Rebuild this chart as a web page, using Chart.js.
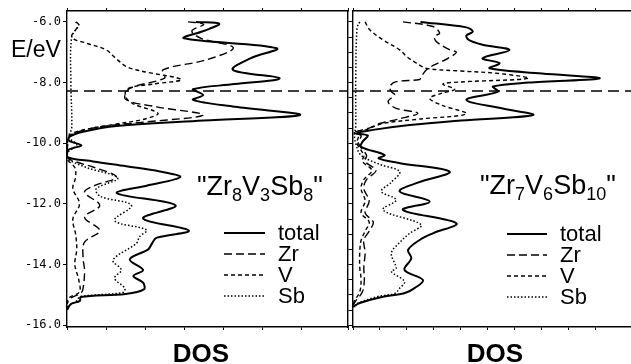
<!DOCTYPE html>
<html>
<head>
    <title>DOS Zr8V3Sb8 / Zr7V6Sb10</title>
    <script src="https://cdn.jsdelivr.net/npm/chart.js"></script>
    <style>
        body { margin: 0; background: #fff; }
        #wrap { position: relative; width: 631px; height: 364px; overflow: hidden;
                font-family: "Liberation Sans", Arial, sans-serif; color: #000; }
        canvas { position: absolute; top: 0; }
        .lbl { position: absolute; white-space: nowrap; line-height: 1; }
        .lbl sub { font-size: 18px; vertical-align: -6px; line-height: 0; }
    </style>
</head>
<body>
<div id="wrap">
    <canvas id="leftChart" width="352" height="364" style="left:0"></canvas>
    <canvas id="rightChart" width="282" height="364" style="left:349px"></canvas>
    <div class="lbl" style="left:11px; top:38px; font-size:23px;">E/eV</div>
    <div class="lbl" style="left:197px; top:173px; font-size:27px;">"Zr<sub>8</sub>V<sub>3</sub>Sb<sub>8</sub>"</div>
    <div class="lbl" style="left:480px; top:172px; font-size:27px;">"Zr<sub>7</sub>V<sub>6</sub>Sb<sub>10</sub>"</div>
    <div class="lbl" style="left:201px; top:340px; font-size:26px; font-weight:bold; transform:translateX(-50%);">DOS</div>
    <div class="lbl" style="left:495px; top:340px; font-size:26px; font-weight:bold; transform:translateX(-50%);">DOS</div>
</div>
<script>
    // axis values
    const yLabelTicks = [-16, -14, -12, -10, -8, -6];
    const yMinorTicks = [-16, -15.5, -15, -14.5, -14, -13.5, -13, -12.5, -12, -11.5, -11,
                         -10.5, -10, -9.5, -9, -8.5, -8, -7.5, -7, -6.5, -6];
    const fermiE = -8.28;
    const seriesNames = ['total', 'Zr', 'V', 'Sb'];

    // "Zr8V3Sb8" (left panel), energy in eV, DOS in arbitrary units
    const lTotalE = [-6.00, -6.06, -6.30, -6.54, -6.87, -7.20, -7.58, -7.86, -8.05, -8.22, -8.41, -8.57, -8.80, -9.07,
                     -9.25, -9.43, -9.62, -9.78, -9.92, -10.07, -10.22, -10.45, -10.60, -10.76, -10.93, -11.12, -11.40,
                     -11.65, -12.05, -12.48, -12.88, -13.12, -13.30, -13.50, -13.83, -14.18, -14.38, -14.60, -14.82,
                     -14.97, -15.07, -15.20, -15.30, -15.50];
    const lTotalD = [3.3, 3.9, 3.5, 3.0, 5.37, 4.7, 4.25, 5.45, 4.3, 3.23, 3.49, 3.23, 4.3, 5.97,
                     3.5, 1.27, 0.41, 0.07, 0.05, 0.37, 0.03, 0.0, 0.67, 1.52, 2.38, 2.9, 2.04,
                     1.28, 2.78, 1.95, 3.12, 2.29, 2.18, 2.08, 1.61, 1.95, 1.7, 1.95, 1.97,
                     1.5, 0.35, 0.33, 0.1, 0.0];
    const lZrE = [-6.00, -6.08, -6.30, -6.55, -6.85, -7.25, -7.58, -7.85, -8.20, -8.55, -8.80, -9.07, -9.30, -9.45,
                  -9.62, -9.80, -10.00, -10.45, -10.60, -10.80, -11.12, -11.40, -11.62, -12.05, -12.44, -12.88,
                  -13.26, -13.76, -14.20, -14.80, -14.95, -15.10, -15.30];
    const lZrD = [3.1, 3.5, 3.2, 3.45, 4.26, 3.57, 2.46, 2.5, 1.6, 1.5, 2.3, 3.49, 2.0, 0.9,
                  0.3, 0.05, 0.02, 0.0, 0.2, 0.7, 1.27, 0.7, 0.45, 0.84, 0.45, 0.84,
                  0.45, 0.41, 0.45, 0.41, 0.35, 0.1, 0.0];
    const lVE = [-6.00, -6.10, -6.50, -6.70, -6.92, -7.20, -7.47, -7.62, -7.90, -8.05, -8.20, -8.46, -8.70, -9.01,
                 -9.20, -9.38, -9.60, -9.80, -10.50, -10.80, -11.12, -11.50, -12.00, -12.50, -13.00, -13.50,
                 -14.00, -14.50, -14.90, -15.10, -15.30];
    const lVD = [0.24, 0.3, 0.12, 0.5, 1.0, 1.25, 1.52, 1.9, 2.93, 2.2, 1.55, 1.5, 1.7, 2.33,
                 2.0, 1.2, 0.3, 0.03, 0.0, 0.2, 0.22, 0.15, 0.32, 0.15, 0.22, 0.25,
                 0.2, 0.3, 0.32, 0.05, 0.0];
    const lSbE = [-6.00, -6.10, -6.50, -8.00, -9.50, -9.80, -10.06, -10.30, -10.50, -10.80, -11.15, -11.50, -11.75,
                  -12.05, -12.55, -12.86, -13.08, -13.30, -13.85, -14.18, -14.45, -14.78, -14.92, -15.06, -15.20, -15.40];
    const lSbD = [0.22, 0.3, 0.12, 0.1, 0.12, 0.05, 0.25, 0.02, 0.0, 0.5, 1.3, 0.75, 0.85,
                  1.65, 1.22, 2.04, 1.86, 1.78, 1.18, 1.39, 1.22, 1.48, 1.44, 0.33, 0.25, 0.0];

    // "Zr7V6Sb10" (right panel)
    const rTotalE = [-6.00, -6.18, -6.32, -6.45, -6.60, -6.75, -6.93, -7.20, -7.36, -7.53, -7.70, -7.86, -8.00, -8.13,
                     -8.30, -8.57, -8.85, -9.07, -9.25, -9.40, -9.56, -9.67, -9.75, -9.95, -10.12, -10.39, -10.50,
                     -10.65, -10.94, -11.30, -11.59, -11.92, -12.20, -12.64, -12.97, -13.19, -13.52, -13.79, -14.18,
                     -14.51, -14.78, -14.95, -15.06, -15.27, -15.40];
    const rTotalD = [2.5, 4.2, 4.44, 4.2, 4.3, 4.8, 5.8, 4.8, 5.43, 5.06, 7.0, 9.14, 6.5, 5.19,
                     5.37, 4.2, 5.5, 6.67, 4.0, 2.1, 0.74, 0.15, 0.55, 0.35, 0.3, 1.17, 0.95,
                     1.7, 3.58, 2.4, 1.73, 2.84, 1.85, 3.83, 2.96, 2.47, 2.04, 2.16, 1.91,
                     2.59, 2.28, 1.9, 1.11, 0.25, 0.0];
    const rZrE = [-6.00, -6.15, -6.37, -6.48, -6.65, -6.92, -7.00, -7.20, -7.36, -7.47, -7.58, -7.80, -7.90, -7.97,
                  -8.13, -8.30, -8.40, -8.63, -8.85, -9.01, -9.20, -9.35, -9.50, -9.65, -9.75, -10.00, -10.40,
                  -10.60, -10.90, -11.20, -11.50, -11.90, -12.30, -12.60, -12.90, -13.20, -13.60, -14.10, -14.50,
                  -14.90, -15.20, -15.35];
    const rZrD = [1.85, 2.96, 3.21, 3.02, 3.09, 3.58, 3.83, 3.52, 3.15, 2.9, 2.72, 2.53, 2.47, 1.6,
                  1.36, 1.42, 1.54, 1.3, 1.6, 2.4, 1.7, 1.0, 0.6, 0.05, 0.3, 0.2, 0.5,
                  0.45, 0.85, 0.5, 0.4, 0.6, 0.45, 0.75, 0.6, 0.4, 0.45, 0.4, 0.42,
                  0.35, 0.1, 0.0];
    const rVE = [-6.00, -6.26, -6.59, -6.92, -7.15, -7.36, -7.53, -7.62, -7.70, -7.86, -7.98, -8.05, -8.22, -8.35,
                 -8.52, -8.75, -9.03, -9.20, -9.35, -9.55, -9.65, -9.75, -10.00, -10.40, -10.60, -10.90, -11.20,
                 -11.50, -11.90, -12.30, -12.60, -12.90, -13.20, -13.60, -14.10, -14.50, -14.90, -15.20, -15.35];
    const rVD = [0.45, 0.62, 1.11, 1.73, 2.0, 2.35, 2.72, 4.0, 5.4, 6.5, 4.0, 3.33, 3.77, 3.3,
                 2.84, 3.3, 4.2, 2.5, 1.1, 0.5, 0.05, 0.2, 0.15, 0.4, 0.35, 0.7, 0.4,
                 0.3, 0.45, 0.3, 0.6, 0.45, 0.3, 0.25, 0.25, 0.3, 0.25, 0.05, 0.0];
    const rSbE = [-6.00, -6.20, -8.00, -9.50, -9.70, -10.00, -10.40, -10.70, -10.94, -11.30, -11.59, -11.87, -12.20,
                  -12.69, -12.97, -13.30, -13.63, -14.12, -14.23, -14.56, -14.78, -14.95, -15.06, -15.27, -15.40];
    const rSbD = [0.25, 0.15, 0.1, 0.1, 0.05, 0.1, 0.3, 1.0, 1.73, 1.4, 1.05, 1.6, 1.11,
                  2.53, 2.1, 1.7, 1.42, 1.6, 1.42, 1.91, 1.73, 1.55, 0.9, 0.2, 0.0];

    // line look for total, Zr, V, Sb
    const lineStyles = [
        { dash: [], width: 2 },
        { dash: [8, 4], width: 1.4 },
        { dash: [4, 3], width: 1.4 },
        { dash: [1.5, 2], width: 1.5 }
    ];

    function toPoints(E, D) {
        return E.map((e, i) => ({ x: D[i], y: e }));
    }

    // legend drawn inside the plot, like the original
    const dosLegend = {
        id: 'dosLegend',
        afterDatasetsDraw(chart, args, opts) {
            const ctx = chart.ctx;
            ctx.save();
            ctx.font = '22px "Liberation Sans", Arial, sans-serif';
            ctx.fillStyle = '#000';
            ctx.strokeStyle = '#000';
            seriesNames.forEach((name, i) => {
                const y = opts.top + i * opts.step;
                ctx.beginPath();
                ctx.setLineDash(lineStyles[i].dash);
                ctx.lineWidth = lineStyles[i].width;
                ctx.moveTo(opts.x0, y - 7);
                ctx.lineTo(opts.x1, y - 7);
                ctx.stroke();
                ctx.setLineDash([]);
                ctx.fillText(name, opts.xText, y);
            });
            ctx.restore();
        }
    };

    function makePanel(id, curves, xMax, isLeft, legendOpts) {
        const frame = { display: true, color: '#000', width: 1.4 };
        const xAxis = (pos, h) => ({
            type: 'linear', position: pos, min: 0, max: xMax,
            border: frame,
            grid: { drawOnChartArea: false, color: '#000', tickLength: 3 },
            ticks: { display: false, stepSize: 1 },
            afterFit: s => { s.height = h; }
        });

        const datasets = [{
            data: [{ x: 0, y: fermiE }, { x: xMax, y: fermiE }],
            borderColor: '#000', borderWidth: 1.6, borderDash: [11, 6],
            showLine: true, pointRadius: 0, tension: 0
        }];
        curves.forEach((c, i) => {
            datasets.push({
                label: seriesNames[i],
                data: toPoints(c[0], c[1]),
                borderColor: '#000',
                borderWidth: lineStyles[i].width,
                borderDash: lineStyles[i].dash,
                showLine: true, pointRadius: 0, fill: false, tension: 0.35
            });
        });

        const minorY = {
            type: 'linear', min: -16.06, max: -5.64,
            border: frame,
            grid: { drawOnChartArea: false, color: '#000', tickLength: 3 },
            afterBuildTicks: s => { s.ticks = yMinorTicks.map(v => ({ value: v })); },
            ticks: { display: false },
            afterFit: s => { s.width = 4; }
        };

        const scales = {
            x: xAxis('bottom', 37),
            xTop: xAxis('top', 11)
        };
        if (isLeft) {
            scales.y = {
                type: 'linear', position: 'left', min: -16.06, max: -5.64,
                border: frame,
                grid: { drawOnChartArea: false, color: '#000', tickLength: 4 },
                afterBuildTicks: s => { s.ticks = yLabelTicks.map(v => ({ value: v })); },
                ticks: {
                    callback: v => v.toFixed(1),
                    color: '#000', padding: 2,
                    font: { family: 'DejaVu Sans Mono', size: 12 }
                },
                afterFit: s => { s.width = 67; }
            };
            scales.yRight = Object.assign({ position: 'right' }, minorY);
        } else {
            scales.y = Object.assign({ position: 'left' }, minorY);
        }

        return new Chart(document.getElementById(id).getContext('2d'), {
            type: 'scatter',
            data: { datasets: datasets },
            options: {
                responsive: false,
                animation: false,
                events: [],
                layout: { padding: 0 },
                scales: scales,
                plugins: {
                    legend: { display: false },
                    tooltip: { enabled: false },
                    dosLegend: legendOpts
                }
            },
            plugins: [dosLegend]
        });
    }

    makePanel('leftChart',
        [[lTotalE, lTotalD], [lZrE, lZrD], [lVE, lVD], [lSbE, lSbD]],
        7.2, true,
        { x0: 224, x1: 265, xText: 278, top: 240, step: 21 });

    makePanel('rightChart',
        [[rTotalE, rTotalD], [rZrE, rZrD], [rVE, rVD], [rSbE, rSbD]],
        10.3, false,
        { x0: 158, x1: 198, xText: 211, top: 241, step: 21 });
</script>
</body>
</html>
